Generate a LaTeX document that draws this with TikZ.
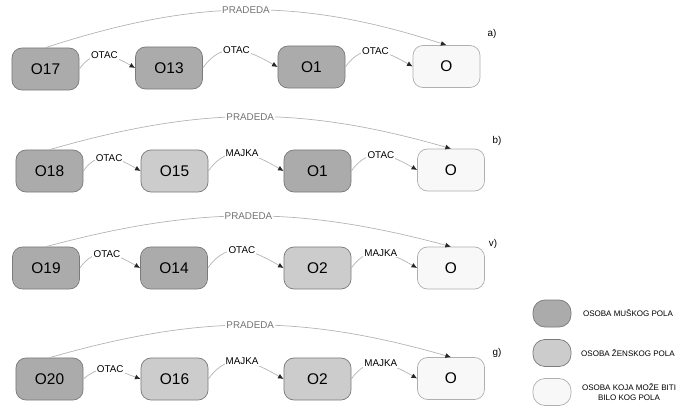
\documentclass[tikz,border=0pt]{standalone}
\usepackage{fontspec}
\setmainfont{Liberation Sans}
\usetikzlibrary{arrows.meta}
\definecolor{muskiboja}{HTML}{ABABAB}
\definecolor{zenskiboja}{HTML}{CCCCCC}
\definecolor{biloboja}{HTML}{F8F8F8}
\definecolor{ivica}{HTML}{7A7A7A}
\definecolor{linija}{HTML}{B4B4B4}
\tikzset{
	osoba/.style={draw=ivica, line width=0.5pt, rounded corners=0.25cm, minimum width=1.675cm, minimum height=1.05cm, inner sep=0pt, font=\fontsize{11}{13}\selectfont},
	muski/.style={osoba, fill=muskiboja},
	zenski/.style={osoba, fill=zenskiboja},
	bilo/.style={osoba, fill=biloboja, draw=ivica!60},
	veza/.style={draw=linija, line width=0.5pt, -{Latex[length=4pt,width=3.5pt,color=black!85]}, out=55, in=150, looseness=1.2},
	natpis/.style={fill=white, inner sep=0.8pt, font=\fontsize{7}{8}\selectfont},
	pradeda/.style={veza, looseness=1},
	sivinatpis/.style={natpis, text=black!55},
	slovo/.style={font=\fontsize{7}{8}\selectfont},
	znak/.style={line width=0.5pt, rounded corners=0.3cm, minimum width=0.95cm, minimum height=0.675cm, inner sep=0pt},
	opis/.style={align=center, inner sep=0pt, font=\fontsize{5.7}{7}\selectfont}
}

\begin{document}
\begin{tikzpicture}[x=0.025cm, y=0.025cm]
			%%%%% START %%%%%
			\useasboundingbox (0,0) rectangle (689,-407);
			
			% a)
			\node[muski] (o17) at (45.5,-69) {O17};
			\node[muski] (o13) at (169,-68) {O13};
			\node[muski] (o1a) at (311.5,-67) {O1};
			\node[bilo] (oa) at (446.5,-66.5) {O};
			\node[slovo] (ra) at (492,-34) {a)};
			\draw[veza] (o17.east) to node[natpis] {OTAC} (o13.west);
			\draw[veza] (o13.east) to node[natpis] {OTAC} (o1a.west);
			\draw[veza] (o1a.east) to node[natpis] {OTAC} (oa.west);
			\draw[pradeda, out=18, in=162] (o17.north) to node[sivinatpis] {PRADEDA} (oa.north);
			
			% b)
			\node[muski] (o18) at (49.5,-171) {O18};
			\node[zenski] (o15) at (174.5,-171) {O15};
			\node[muski] (o1b) at (317.5,-171) {O1};
			\node[bilo] (ob) at (451,-170) {O};
			\node[slovo] (rb) at (497,-141) {b)};
			\draw[veza] (o18.east) to node[natpis] {OTAC} (o15.west);
			\draw[veza] (o15.east) to node[natpis] {MAJKA} (o1b.west);
			\draw[veza] (o1b.east) to node[natpis] {OTAC} (ob.west);
			\draw[pradeda, out=16, in=164] (o18.north) to node[sivinatpis] {PRADEDA} (ob.north);
			
			% v)
			\node[muski] (o19) at (46,-268) {O19};
			\node[muski] (o14) at (174,-268) {O14};
			\node[zenski] (o2v) at (317.5,-268) {O2};
			\node[bilo] (ov) at (451,-268) {O};
			\node[slovo] (rv) at (493,-244) {v)};
			\draw[veza] (o19.east) to node[natpis] {OTAC} (o14.west);
			\draw[veza] (o14.east) to node[natpis] {OTAC} (o2v.west);
			\draw[veza] (o2v.east) to node[natpis] {MAJKA} (ov.west);
			\draw[pradeda, out=15, in=165] (o19.north) to node[sivinatpis] {PRADEDA} (ov.north);
			
			% g)
			\node[muski] (o20) at (49.5,-379) {O20};
			\node[zenski] (o16) at (174.5,-379) {O16};
			\node[zenski] (o2g) at (317.5,-379) {O2};
			\node[bilo] (og) at (451,-378.5) {O};
			\node[slovo] (rg) at (497,-353) {g)};
			\draw[veza, out=40, in=160] (o20.east) to node[natpis] {OTAC} (o16.west);
			\draw[veza] (o16.east) to node[natpis] {MAJKA} (o2g.west);
			\draw[veza] (o2g.east) to node[natpis] {MAJKA} (og.west);
			\draw[pradeda, out=16, in=164] (o20.north) to node[sivinatpis] {PRADEDA} (og.north);
			
			% legenda
			\node[znak, draw=ivica, fill=muskiboja] (l1) at (552,-313.5) {};
			\node[znak, draw=ivica, fill=zenskiboja] (l2) at (552,-353) {};
			\node[znak, draw=ivica!60, fill=biloboja] (l3) at (552,-392) {};
			\node[opis] (t1) at (628,-313.5) {OSOBA MUŠKOG POLA};
			\node[opis] (t2) at (628,-353) {OSOBA ŽENSKOG POLA};
			\node[opis] (t3) at (629,-392) {OSOBA KOJA MOŽE BITI\\BILO KOG POLA};
			
			%%%%% END %%%%%
		\end{tikzpicture}
\end{document}
